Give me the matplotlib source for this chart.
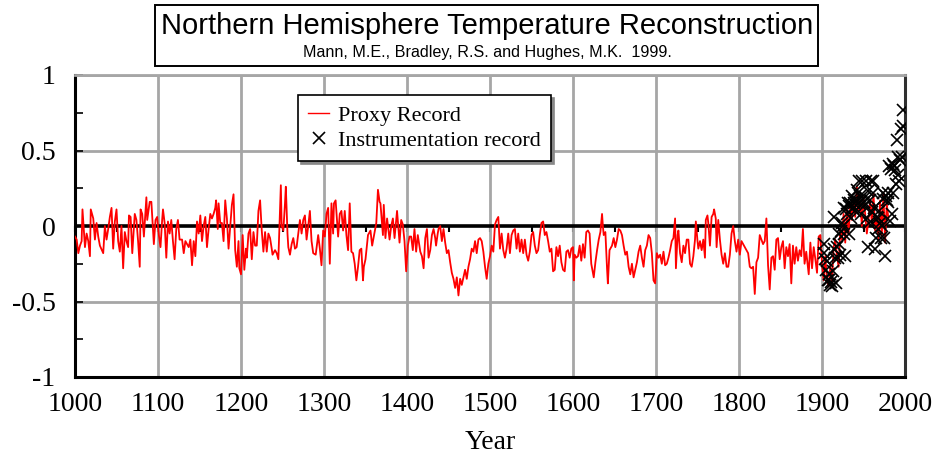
import matplotlib
matplotlib.use("Agg")
import matplotlib.pyplot as plt
from matplotlib.patches import Rectangle
from matplotlib.lines import Line2D
import numpy as np

# ---------------- data ----------------
proxy_years = [
 1000,1002,1004,1006,1008,1009,1012,1014,1016,1018,1019,1022,1024,1026,1028,1030,1034,1036,1038,1040,
 1042,1044,1046,1048,1050,1052,1054,1056,1058,1060,1062,1064,1065,1067,1069,1072,1074,1076,1078,1079,
 1081,1083,1086,1087,1090,1092,1094,1095,1097,1099,1101,1103,1105,1106,1108,1110,1112,1114,1116,1118,
 1120,1122,1124,1126,1129,1131,1133,1135,1137,1139,1141,1143,1145,
 1147,1149,1151,1153,1155,1157,1159,1161,1163,1165,1167,1169,1170,1172,1173,1175,1177,1179,1181,1183,
 1185,1187,1189,1191,1193,1195,1197,1198,1200,1202,1204,1206,1207,1209,1211,1213,1215,1217,1219,1221,
 1223,1225,1227,1229,1231,1233,1235,1237,1238,1241,1243,1245,1248,1249,1251,1253,1254,1256,1257,1259,
 1261,1263,1265,1267,1269,1271,1273,1275,1277,1279,1281,1283,1285,
 1287,1290,1293,1295,1297,1299,1301,1303,1305,1307,1309,1311,1312,1314,1317,1319,1321,1323,1325,1327,
 1329,1331,1333,1335,1337,1339,1341,1343,1345,1347,1348,1350,1353,1356,1358,1361,1363,1365,1367,1368,
 1371,1372,1374,1376,1378,1379,1381,1383,1385,1388,1390,1391,1393,1395,1397,1399,1401,1403,1405,1407,
 1409,1411,1413,1416,1418,1420,1422,1424,1426,1428,1430,1432,
 1434,1435,1437,1438,1440,1442,1444,1446,1448,1450,1452,1454,1456,1458,1460,1462,1464,1466,1468,1470,
 1472,1474,1476,1478,1480,1482,1484,1486,1488,1490,1492,1494,1496,1498,1500,1502,1504,1506,1508,1510,
 1512,1514,1516,1518,1520,1522,1524,1526,1528,1530,1532,1534,1536,1538,1540,1542,1544,1546,1548,1550,
 1552,1554,1556,1558,1560,1562,1564,1566,1568,1570,1572,1574,1576,
 1578,1580,1582,1584,1586,1588,1590,1592,1594,1596,1598,1600,1601,1602,1604,1606,1608,1610,1612,1614,
 1616,1618,1620,1622,1625,1627,1629,1631,1633,1635,1636,1637,1639,1641,1642,1644,1647,1649,1651,1653,
 1655,1657,1659,1661,1663,1665,1667,1669,1671,1673,1675,1677,1679,1681,1683,1685,1687,1689,1691,1693,
 1695,1697,1699,1701,1703,1705,1707,1709,1711,1713,1715,1717,1719,1721,1723,
 1724,1726,1727,1729,1731,1733,1735,1737,1739,1741,1743,1745,1747,1748,1750,1751,1753,1755,1757,1759,
 1760,1762,1763,1765,1767,1769,1770,1772,1773,1775,1777,1779,1781,1783,1785,1787,1789,1791,1793,1795,
 1797,1799,1801,1803,1805,1807,1809,1811,1813,1815,1817,1819,1821,1823,1825,1827,1829,1831,1833,1834,
 1835,1837,
 1839,1841,1843,1845,1847,1849,1851,1853,1855,1857,1859,1861,1863,1865,1867,1869,1871,1873,1875,1877,
 1879,1881,1884,1886,1888,1890,1892,1894,1896,1898,1900,1902,1904,1906,1908,1910,1912,1914,1916,1918,
 1920,1922,1924,1926,1928,1930,1932,1934,1936,1938,1940,1942,1944,1946,1948,1950,1952,1954,1956,1958,
 1960,1962,1964,1966,1968,1970,1972,1974,1976,1978,1980,
]
proxy_anom = [
 -0.07,-0.09,-0.18,-0.13,-0.10,0.11,-0.14,-0.05,-0.10,-0.20,0.11,0.05,-0.09,0.02,-0.07,-0.13,-0.18,0.00,-0.09,-0.02,
 0.06,0.12,-0.15,0.03,0.11,-0.10,-0.17,0.00,-0.28,-0.04,-0.10,-0.14,0.07,0.06,-0.18,0.08,0.04,-0.10,-0.27,0.11,
 0.08,-0.07,0.19,0.04,0.16,0.16,-0.03,-0.12,0.04,0.06,-0.06,-0.14,0.04,0.11,0.02,-0.21,0.03,-0.05,0.04,-0.10,
 -0.22,-0.02,0.04,-0.09,-0.09,-0.18,-0.10,-0.12,-0.14,-0.09,-0.26,-0.10,-0.20,
 0.03,-0.05,0.07,-0.10,0.00,0.06,-0.14,-0.02,0.08,0.05,0.08,0.12,0.17,-0.02,0.15,0.02,0.02,-0.10,0.17,0.05,
 -0.15,0.00,0.14,0.21,-0.16,-0.27,-0.10,-0.28,-0.32,-0.06,-0.29,-0.15,-0.21,-0.05,-0.02,-0.22,-0.04,-0.13,-0.13,0.10,
 0.17,-0.03,-0.17,-0.04,-0.17,-0.05,-0.08,-0.15,-0.19,-0.16,-0.18,-0.22,0.27,0.00,-0.03,0.15,0.26,-0.05,-0.14,-0.19,
 -0.12,-0.08,-0.15,-0.14,-0.05,0.04,-0.05,0.04,0.07,-0.09,0.00,0.10,-0.10,
 -0.18,-0.19,-0.06,-0.15,-0.26,-0.03,-0.07,0.08,0.12,-0.25,0.15,-0.05,0.15,0.17,-0.07,0.08,0.10,-0.03,0.10,-0.06,
 -0.16,0.15,-0.17,-0.18,-0.25,-0.36,-0.27,-0.16,-0.15,-0.36,-0.27,-0.22,-0.06,-0.03,-0.13,-0.04,0.02,0.24,0.16,0.15,
 -0.06,0.14,-0.08,0.05,-0.04,-0.09,0.00,0.05,-0.08,0.10,-0.04,-0.11,0.04,0.01,-0.10,-0.30,-0.13,-0.07,-0.07,-0.16,
 -0.02,-0.17,-0.06,-0.17,-0.20,-0.28,-0.08,-0.02,-0.21,-0.16,-0.06,-0.02,
 -0.08,-0.13,-0.05,-0.02,0.00,-0.10,-0.02,-0.11,-0.18,-0.16,-0.24,-0.31,-0.35,-0.41,-0.34,-0.46,-0.35,-0.39,-0.34,-0.29,
 -0.35,-0.27,-0.22,-0.15,-0.17,-0.10,-0.18,-0.09,-0.08,-0.10,-0.17,-0.27,-0.35,-0.25,-0.20,-0.13,-0.17,0.01,0.04,0.06,
 -0.15,-0.05,-0.16,-0.21,-0.15,-0.05,-0.18,-0.06,-0.03,-0.02,-0.15,-0.05,-0.17,-0.09,-0.18,-0.09,-0.19,-0.23,-0.17,-0.06,
 -0.04,-0.13,-0.18,-0.16,-0.06,0.02,0.03,-0.06,-0.04,-0.10,-0.17,-0.15,-0.30,
 -0.29,-0.14,-0.20,-0.13,-0.24,-0.29,-0.30,-0.17,-0.16,-0.21,-0.15,-0.14,-0.36,-0.19,-0.21,-0.20,-0.13,-0.23,-0.12,-0.21,
 -0.04,-0.03,-0.05,-0.25,-0.34,-0.24,-0.16,-0.09,-0.04,0.08,0.00,-0.06,-0.04,-0.28,-0.38,-0.16,-0.13,-0.08,-0.14,-0.09,
 -0.02,-0.03,-0.06,-0.13,-0.19,-0.17,-0.27,-0.32,-0.25,-0.34,-0.29,-0.24,-0.17,-0.13,-0.21,-0.27,-0.16,-0.13,-0.06,-0.08,
 -0.18,-0.36,-0.38,-0.18,-0.21,-0.19,-0.25,-0.17,-0.26,-0.25,-0.21,-0.16,-0.10,-0.08,0.05,
 -0.28,-0.06,-0.03,-0.18,-0.24,-0.13,-0.18,-0.09,-0.09,-0.25,-0.27,-0.20,-0.09,0.03,-0.10,-0.15,-0.10,-0.16,-0.09,-0.21,
 0.04,0.07,0.02,-0.13,0.06,0.08,0.11,0.05,-0.14,0.04,-0.09,-0.19,-0.25,-0.18,-0.27,-0.27,-0.19,-0.05,0.00,-0.10,
 -0.17,-0.09,-0.19,-0.10,-0.12,-0.14,-0.16,-0.18,-0.27,-0.28,-0.27,-0.45,-0.24,-0.21,-0.06,-0.09,-0.12,-0.10,0.05,-0.11,
 -0.26,-0.42,
 -0.21,-0.20,-0.29,-0.09,-0.08,-0.22,-0.14,-0.10,-0.28,-0.14,-0.20,-0.12,-0.38,-0.13,-0.25,-0.14,-0.23,-0.16,-0.20,-0.02,
 -0.25,-0.17,-0.32,-0.11,-0.28,-0.14,-0.22,-0.31,-0.07,-0.06,-0.25,-0.36,-0.20,-0.36,-0.40,-0.27,-0.38,-0.14,-0.09,-0.20,
 -0.27,-0.03,-0.09,0.08,-0.11,0.11,-0.05,0.13,0.04,0.17,0.06,0.26,0.10,0.17,0.00,0.19,0.08,-0.05,0.04,0.17,
 0.02,0.22,-0.03,0.06,-0.09,0.17,-0.07,0.22,-0.11,0.15,0.05,
]

instr_years = list(range(1902, 1999))
instr_anom = [
 -0.12,-0.18,-0.22,-0.29,-0.23,-0.36,-0.32,-0.36,-0.39,-0.37,-0.40,-0.30,0.06,-0.15,-0.21,-0.38,-0.14,-0.21,-0.12,-0.05,
 -0.19,-0.03,0.02,0.00,0.12,-0.05,-0.20,0.11,0.08,0.15,0.13,-0.05,0.15,0.05,0.20,0.12,0.17,0.15,0.10,0.16,
 0.24,0.22,0.30,0.15,0.20,0.08,0.30,0.15,0.13,0.16,0.19,0.30,0.05,-0.14,0.23,0.02,0.17,0.30,0.09,0.22,
 0.30,0.12,-0.15,-0.08,0.06,0.05,-0.02,0.10,0.02,-0.08,0.00,0.18,0.22,-0.08,-0.20,0.20,0.17,0.16,0.22,0.40,
 0.03,0.38,0.08,0.41,0.22,0.40,0.37,0.28,0.57,0.46,0.34,0.30,0.44,0.64,0.46,0.66,0.77,
]

x_ticks = [1000, 1100, 1200, 1300, 1400, 1500, 1600, 1700, 1800, 1900, 2000]
y_ticks = [-1, -0.5, 0, 0.5, 1]
y_ticklabels = ["-1", "-0.5", "0", "0.5", "1"]

title = "Northern Hemisphere Temperature Reconstruction"
subtitle = "Mann, M.E., Bradley, R.S. and Hughes, M.K.  1999."
legend_labels = ["Proxy Record", "Instrumentation record"]

# ---------------- figure ----------------
W, H = 947, 458
fig = plt.figure(figsize=(W / 100, H / 100), dpi=100)
ax = fig.add_axes([75 / W, 1 - 377 / H, 830 / W, 302 / H])

serif = ["Liberation Serif", "DejaVu Serif"]
sans = ["Liberation Sans", "DejaVu Sans"]

grid_c = "#a6a6a6"
ax.set_xlim(1000, 2000)
ax.set_ylim(-1, 1)
ax.set_xticks(x_ticks)
ax.set_yticks(y_ticks)
ax.set_yticklabels(y_ticklabels)
ax.set_yticks(np.arange(-1, 1.01, 0.25), minor=True)
for lab in ax.get_xticklabels() + ax.get_yticklabels():
    lab.set_fontfamily(serif)
    lab.set_fontsize(20)
ax.tick_params(axis="x", which="both", length=0, pad=11)
ax.tick_params(axis="y", which="both", direction="in", length=6, width=1.2, pad=14)
ax.grid(True, axis="x", color=grid_c, lw=2.0, zorder=0)
for yv in [-0.5, 0.5, 1.0]:
    ax.axhline(yv, color=grid_c, lw=2.0, zorder=0)

for s in ["left", "bottom"]:
    ax.spines[s].set_linewidth(2.2)
    ax.spines[s].set_color("black")
ax.spines["right"].set_linewidth(2.2)
ax.spines["right"].set_color("#303030")
ax.spines["top"].set_linewidth(2.0)
ax.spines["top"].set_color(grid_c)

# zero line with small ticks
sec = ax.secondary_xaxis(0.5)
sec.set_xticks(np.arange(1000, 2001, 50))
sec.set_xticklabels([])
sec.tick_params(axis="x", direction="in", length=4, width=1.5, color="black")
sec.spines["bottom"].set_linewidth(3.0)
sec.spines["bottom"].set_color("black")
sec.spines["bottom"].set_zorder(5)

ax.plot(proxy_years, proxy_anom, color="#ff0000", lw=1.3, zorder=3)
ax.plot(instr_years, instr_anom, linestyle="none", marker="x", ms=8, mew=1.2,
        color="black", zorder=4)
ax.axhline(0, color="black", lw=2.6, zorder=2.5)

ax.set_xlabel("Year", fontfamily=serif, fontsize=20, labelpad=9)

handles = [Line2D([], [], color="#ff0000", lw=1.0),
           Line2D([], [], linestyle="none", marker="x", ms=8, mew=1.2, color="black")]
leg = ax.legend(handles, legend_labels, loc="upper left",
                bbox_to_anchor=((298 - 75) / 830, (377 - 95) / 302),
                prop={"family": serif, "size": 16}, frameon=True, fancybox=False,
                shadow={"color": "#888888", "alpha": 1.0}, edgecolor="black",
                borderpad=0.45, handlelength=0.95, handletextpad=0.4, labelspacing=0.22,
                borderaxespad=0.0)
leg.get_frame().set_linewidth(1.2)

# title box
fig.patches.append(Rectangle((155 / W, 1 - 66 / H), (818 - 155) / W, 61 / H,
                             transform=fig.transFigure, fill=True, facecolor="white",
                             edgecolor="black", lw=1.4))
fig.text(487 / W, 1 - 26 / H, title, ha="center", va="center",
         fontfamily=sans, fontsize=21)
fig.text(487 / W, 1 - 53 / H, subtitle, ha="center", va="center",
         fontfamily=sans, fontsize=11.6)

fig.savefig("out.png", dpi=100)
